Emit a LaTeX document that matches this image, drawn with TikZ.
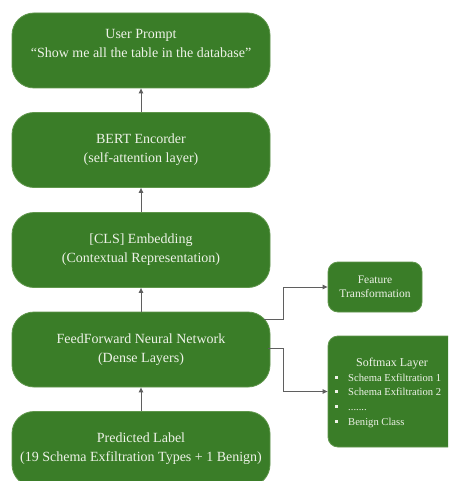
\documentclass[tikz,border=0pt]{standalone}
\usepackage{fontspec}
\setmainfont{Liberation Serif}
\usetikzlibrary{arrows.meta,calc}
\definecolor{boxgreen}{RGB}{58,125,40}
\definecolor{edgegreen}{RGB}{95,150,75}
\definecolor{linegray}{RGB}{95,95,95}
\definecolor{txtwhite}{RGB}{238,242,232}
\tikzset{
  mainbox/.style={draw=edgegreen, line width=0.8pt, fill=boxgreen, rounded corners=22pt,
    minimum width=258pt, minimum height=75pt, align=center, text=txtwhite,
    font=\fontsize{14}{19}\selectfont, inner sep=0pt},
  sidebox/.style={draw=edgegreen, line width=0.8pt, fill=boxgreen, rounded corners=10pt,
    align=center, text=txtwhite, inner sep=0pt},
  arr/.style={draw=linegray, line width=1pt, -{Triangle[length=5pt,width=4.5pt]}},
  bul/.style={fill=txtwhite, draw=none, minimum size=3pt, inner sep=0pt},
  smalltxt/.style={text=txtwhite, font=\fontsize{10.6}{14}\selectfont, inner sep=0pt, anchor=base west}
}
\begin{document}
\begin{tikzpicture}[x=1pt,y=-1pt]
\clip (0,0) rectangle (448,481);
\useasboundingbox (0,0) rectangle (448,481);
\fill[white] (0,0) rectangle (448,481);

\node[mainbox] (b1) at (141,50.5) {User Prompt\\“Show me all the table in the database”\\[-4pt]\mbox{}};
\node[mainbox] (b2) at (141,150) {BERT Encorder\\(self-attention layer)};
\node[mainbox] (b3) at (141,250) {[CLS] Embedding\\(Contextual Representation)};
\node[mainbox] (b4) at (141,349.5) {FeedForward Neural Network\\(Dense Layers)};
\node[mainbox] (b5) at (141,449) {Predicted Label\\(19 Schema Exfiltration Types + 1 Benign)};

\node[sidebox, minimum width=94pt, minimum height=50pt, font=\fontsize{11.5}{14}\selectfont] (feat) at (375,287) {Feature\\Transformation};
\node[sidebox, minimum width=140pt, minimum height=111pt] (soft) at (398,391.5) {};

\node[text=txtwhite, font=\fontsize{12}{14}\selectfont, inner sep=0pt, anchor=base] (st) at (392,366) {Softmax Layer};
\node[bul] (u1) at (336,377) {};
\node[bul] (u2) at (336,391) {};
\node[bul] (u3) at (336,406) {};
\node[bul] (u4) at (336,421) {};
\node[smalltxt] (l1) at (348,381) {Schema Exfiltration 1};
\node[smalltxt] (l2) at (348,395) {Schema Exfiltration 2};
\node[smalltxt] (l3) at (348,410) {.......};
\node[smalltxt] (l4) at (348,425) {Benign Class};

\draw[arr] (b2.north) -- (b1.south);
\draw[arr] (b3.north) -- (b2.south);
\draw[arr] (b4.north) -- (b3.south);
\draw[arr] (b5.north) -- (b4.south);

\coordinate (s1) at (264,319);
\coordinate (s2) at (268,348);
\coordinate (j1) at (283,319);
\coordinate (j2) at (283,348);
\draw[arr] (s1) -- (j1) |- (feat.west);
\draw[arr] (s2) -- (j2) |- (soft.west);
\end{tikzpicture}
\end{document}
